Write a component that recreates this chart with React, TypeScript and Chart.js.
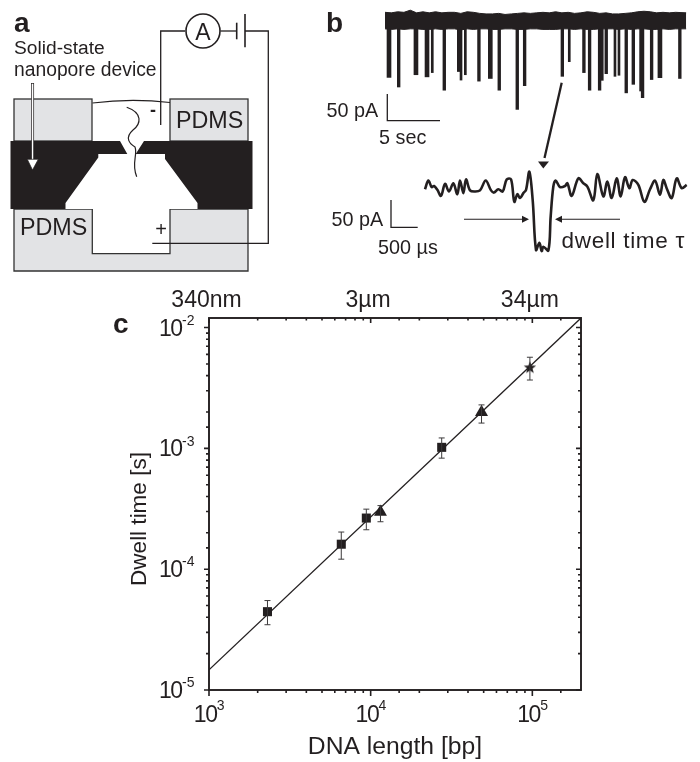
import React, { useEffect, useRef } from "react";
import { Chart, registerables } from "chart.js";

Chart.register(...registerables);

// Panel c: dwell time vs DNA length
const squareLengths = [2300, 6580, 9400, 27500];
const squareTimes = [4.45e-5, 1.61e-4, 2.65e-4, 1.02e-3];
const squareHigh = [5.5e-5, 2.03e-4, 3.14e-4, 1.22e-3];
const squareLow = [3.47e-5, 1.21e-4, 2.12e-4, 8.3e-4];
const triangleLengths = [11500, 48500];
const triangleTimes = [2.98e-4, 1.99e-3];
const triangleHigh = [3.36e-4, 2.29e-3];
const triangleLow = [2.47e-4, 1.62e-3];
const starLengths = [96600];
const starTimes = [4.69e-3];
const starHigh = [5.68e-3];
const starLow = [3.68e-3];
const fitLengths = [1000, 200000];
const fitTimes = [1.47e-5, 1.2e-2];
const topLabels = ["340nm", "3µm", "34µm"];
const topLabelLengths = [965, 9650, 96500];

// Panel b, upper trace: events (seconds, pA below the open-pore level)
const thickTimes = [0.38, 2.94, 3.99, 7.06, 10.0, 24.37, 26.11];
const thickDepths = [-92, -87, -91, -81, -94, -117.5, -92.5];
const mediumTimes = [1.3, 5.63, 8.92, 10.85, 12.56, 13.26, 16.84, 18.89, 19.43, 20.38, 20.6, 21.01, 22.91, 23.58, 24.46, 25.32, 28.0];
const mediumDepths = [-110, -116, -99, -116, -152, -107.5, -90, -83, -116, -116, -97.5, -85, -121, -105, -130, -96, -94];
const thinTimes = [4.49, 7.22, 7.63, 17.5, 21.84, 22.22];
const thinDepths = [-83, -97, -87, -62.5, -90, -88];
const bandTimes = [0, 0.6, 1.2, 1.8, 2.4, 3, 3.6, 4.2, 4.8, 5.4, 6, 6.6, 7.2, 7.8, 8.4, 9, 9.6, 10.2, 10.8, 11.4, 12, 12.6, 13.2, 13.8, 14.4, 15, 15.6, 16.2, 16.8, 17.4, 18, 18.6, 19.2, 19.8, 20.4, 21, 21.6, 22.2, 22.8, 23.4, 24, 24.6, 25.2, 25.8, 26.4, 27, 27.6, 28.6];
const bandTop = [30, 29, 31, 30, 34, 29, 31, 29, 31, 29, 30, 30, 28, 31, 30, 28, 27, 27, 28, 26, 27, 28, 29, 28, 29, 30, 29, 31, 29, 30, 28, 29, 31, 30, 28, 29, 27, 27, 28, 29, 31, 32, 31, 29, 30, 29, 30, 29];
const bandBottom = [-1, -2, -1, -2, -1, -1, -2, -2, -1, -2, -1, -1, -3, -1, -2, -1, -1, -2, -2, -1, -1, -2, -2, -1, -1, -2, -2, -2, -1, -1, -2, -1, -2, -2, -1, -1, -1, -2, -1, -2, -1, -1, -2, -2, -1, -2, -1, -1];

// Panel b, lower trace: single event (microseconds, pA)
const eventTimes = [0, 63, 125, 169, 231, 300, 375, 450, 531, 606, 656, 719, 769, 844, 938, 1031, 1138, 1238, 1294, 1375, 1456, 1531, 1613, 1675, 1731, 1781, 1844, 1894, 1956, 2019, 2081, 2144, 2188, 2219, 2313, 2356, 2406, 2450, 2531, 2625, 2669, 2750, 2875, 2969, 3044, 3156, 3231, 3344, 3419, 3500, 3594, 3669, 3750, 3831, 3894, 4000, 4113, 4219, 4313, 4406, 4469, 4531, 4625, 4719, 4813, 4906];
const eventCurrent = [0, 16, 4, 6, -1, -12, 10, -4, 11, -9, 16, -7, 18, -2, -4, -2, 16, -2, -6, 0, -4, 18, 18, -23, -9, -16, -7, -1, 32, -20, -111, -98, -113, -105, -112, -50, 5, 16, 4, 6, 11, -12, 20, 11, 5, -20, 28, -13, 14, -16, 20, -13, 22, 2, 17, 8, -23, 0, 16, -10, 17, 2, -16, 20, 2, 8];

const INK = "#231f20";
const SANS = '"Liberation Sans", Arial, sans-serif';

function label(c: CanvasRenderingContext2D, s: string, x: number, y: number, size: number, opts: { bold?: boolean; align?: CanvasTextAlign; spacing?: string } = {}) {
  c.font = `${opts.bold ? "bold " : ""}${size}px ${SANS}`;
  c.textAlign = opts.align ?? "left";
  c.textBaseline = "alphabetic";
  (c as any).letterSpacing = opts.spacing ?? "0px";
  c.fillStyle = INK;
  c.fillText(s, x, y);
  (c as any).letterSpacing = "0px";
}

function path(c: CanvasRenderingContext2D, pts: number[][], close = false) {
  c.beginPath();
  pts.forEach((p, i) => (i ? c.lineTo(p[0], p[1]) : c.moveTo(p[0], p[1])));
  if (close) c.closePath();
}

function drawSchematic(c: CanvasRenderingContext2D) {
  c.save();
  c.lineJoin = "miter";
  c.strokeStyle = "#333";
  c.lineWidth = 1.3;
  c.fillStyle = "#e2e3e5";
  c.fillRect(14, 99, 78, 42);
  c.strokeRect(14, 99, 78, 42);
  c.fillRect(170, 99, 78, 42);
  c.strokeRect(170, 99, 78, 42);
  const lower = [[14, 209], [92.3, 209], [92.3, 253.7], [170, 253.7], [170, 209], [248, 209], [248, 271], [14, 271]];
  path(c, lower, true);
  c.fill();
  c.stroke();
  c.fillStyle = INK;
  c.fillRect(10.5, 141, 242, 68);
  c.fillStyle = "#fff";
  path(c, [[65.5, 209], [65.5, 203], [98.3, 157.5], [98.3, 154], [127.3, 154], [120, 141], [144, 141], [135.7, 154], [165, 154], [165, 159], [197.5, 203], [197.5, 209]], true);
  c.fill();
  c.strokeStyle = INK;
  c.lineWidth = 1.3;
  path(c, [[185, 31], [160.7, 31], [160.7, 125]]);
  c.stroke();
  path(c, [[220.5, 31], [236.5, 31]]);
  c.stroke();
  path(c, [[245, 31], [268.3, 31], [268.3, 243.3], [152.3, 243.3]]);
  c.stroke();
  c.lineWidth = 1.6;
  path(c, [[236.7, 22.7], [236.7, 39.3]]);
  c.stroke();
  path(c, [[245, 14], [245, 47.3]]);
  c.stroke();
  c.beginPath();
  c.arc(203, 31, 17, 0, Math.PI * 2);
  c.stroke();
  c.lineWidth = 1.2;
  c.beginPath();
  c.moveTo(92.5, 103);
  c.bezierCurveTo(115, 100, 145, 99.5, 170, 102.5);
  c.stroke();
  c.beginPath();
  c.moveTo(126.7, 107.3);
  c.bezierCurveTo(143, 113, 141, 124, 133, 130);
  c.bezierCurveTo(124, 138, 130, 144, 135, 147);
  c.bezierCurveTo(138, 155, 131, 163, 136.7, 176.7);
  c.stroke();
  // hollow pointer
  c.fillStyle = "#fff";
  c.strokeStyle = INK;
  c.lineWidth = 0.7;
  c.fillRect(31.5, 83.5, 2.2, 77);
  c.strokeRect(31.5, 83.5, 2.2, 77);
  path(c, [[27.3, 159.3], [38.3, 159.3], [32.5, 170]], true);
  c.fill();
  c.stroke();
  label(c, "a", 14, 32, 28, { bold: true });
  label(c, "Solid-state", 14, 54, 19.2);
  label(c, "nanopore device", 14, 76, 19.3);
  label(c, "PDMS", 176, 128, 23.3);
  label(c, "PDMS", 20, 235, 23.3);
  label(c, "A", 203, 39.5, 23, { align: "center" });
  label(c, "-", 153, 116, 18, { align: "center", bold: true });
  label(c, "+", 161, 236, 20, { align: "center" });

  // panel b annotation
  label(c, "b", 326, 32, 28, { bold: true });
  label(c, "50 pA", 326.5, 117, 19.8);
  label(c, "5 sec", 379, 144, 19.8);
  c.lineWidth = 1.3;
  path(c, [[387.3, 94], [387.3, 120.7], [440, 120.7]]);
  c.stroke();
  c.lineWidth = 2.3;
  path(c, [[561.7, 82.7], [544.5, 158]]);
  c.stroke();
  c.fillStyle = INK;
  path(c, [[538, 161.5], [549, 161.5], [543.3, 168.5]], true);
  c.fill();
  label(c, "50 pA", 331.5, 226, 19.8);
  label(c, "500 µs", 378, 254, 19.8);
  label(c, "dwell time τ", 561.5, 248.3, 22.5, { spacing: "0.7px" });
  c.lineWidth = 1.1;
  path(c, [[464, 219.3], [524, 219.3]]);
  c.stroke();
  path(c, [[522, 215.8], [529, 219.3], [522, 222.8]], true);
  c.fill();
  path(c, [[560, 219.3], [620, 219.3]]);
  c.stroke();
  path(c, [[562, 215.8], [555, 219.3], [562, 222.8]], true);
  c.fill();
  c.lineWidth = 1.3;
  path(c, [[391, 200], [391, 227.3], [417.7, 227.3]]);
  c.stroke();
  label(c, "c", 113, 332.5, 28, { bold: true });
  c.restore();
}

const isDecade = (v: number) => Math.abs(Math.log10(v) - Math.round(Math.log10(v))) < 1e-6;

const schematicPlugin = {
  id: "schematic",
  beforeDatasetsDraw(chart: any) {
    drawSchematic(chart.ctx);
  },
};

const errorPlugin = {
  id: "errorBars",
  afterDatasetsDraw(chart: any) {
    const c: CanvasRenderingContext2D = chart.ctx;
    const { x, y } = chart.scales;
    const groups = [
      [squareLengths, squareHigh, squareLow],
      [triangleLengths, triangleHigh, triangleLow],
      [starLengths, starHigh, starLow],
    ];
    c.save();
    c.strokeStyle = "#3c3a3b";
    c.lineWidth = 1;
    groups.forEach(([xs, hi, lo]) =>
      xs.forEach((v, i) => {
        const px = x.getPixelForValue(v);
        const top = y.getPixelForValue(hi[i]);
        const bot = y.getPixelForValue(lo[i]);
        c.beginPath();
        c.moveTo(px, top);
        c.lineTo(px, bot);
        c.moveTo(px - 3, top);
        c.lineTo(px + 3, top);
        c.moveTo(px - 3, bot);
        c.lineTo(px + 3, bot);
        c.stroke();
      })
    );
    c.restore();
  },
};

const framePlugin = {
  id: "frame",
  afterDraw(chart: any) {
    const c: CanvasRenderingContext2D = chart.ctx;
    const { left, right, top, bottom } = chart.chartArea;
    const { x, y } = chart.scales;
    c.save();
    c.strokeStyle = INK;
    c.lineWidth = 1.9;
    c.strokeRect(left, top, right - left, bottom - top);
    c.lineWidth = 1.6;
    x.ticks.forEach((t: any) => {
      if (t.value < x.min || t.value >= x.max) return;
      const px = x.getPixelForValue(t.value);
      const major = isDecade(t.value);
      c.beginPath();
      c.moveTo(px, bottom);
      c.lineTo(px, bottom + (major ? 6 : 3));
      c.moveTo(px, top);
      c.lineTo(px, top + (major ? 5 : 2.5));
      c.stroke();
      if (major) {
        label(c, "10", px + 7.6, bottom + 31.7, 23, { align: "right", spacing: "-1.4px" });
        label(c, String(Math.round(Math.log10(t.value))), px + 7.8, bottom + 20, 14);
      }
    });
    y.ticks.forEach((t: any) => {
      if (t.value > 0.0101 || t.value < y.min * 0.999) return;
      const py = y.getPixelForValue(t.value);
      const major = isDecade(t.value);
      c.beginPath();
      c.moveTo(left, py);
      c.lineTo(left - (major ? 5 : 3), py);
      c.moveTo(right, py);
      c.lineTo(right - (major ? 5 : 3), py);
      c.stroke();
      if (major) {
        label(c, "10", 181.7, py + 8, 23, { align: "right", spacing: "-1.4px" });
        label(c, String(Math.round(Math.log10(t.value))), 182, py - 2.7, 14);
      }
    });
    c.translate(146, 519);
    c.rotate(-Math.PI / 2);
    label(c, "Dwell time [s]", 0, 0, 22.5, { align: "center" });
    c.restore();
  },
};

function starPoint(): HTMLCanvasElement {
  const el = document.createElement("canvas");
  el.width = 14;
  el.height = 14;
  const c = el.getContext("2d")!;
  c.fillStyle = INK;
  c.beginPath();
  for (let i = 0; i < 10; i++) {
    const r = i % 2 ? 2.7 : 6.5;
    const a = -Math.PI / 2 + (i * Math.PI) / 5;
    const px = 7 + r * Math.cos(a);
    const py = 7.5 + r * Math.sin(a);
    i ? c.lineTo(px, py) : c.moveTo(px, py);
  }
  c.closePath();
  c.fill();
  return el;
}

const pairs = (xs: number[], ys: number[]) => xs.map((x, i) => ({ x, y: ys[i] }));
const spikes = (xs: number[], ys: number[]) => xs.map((x, i) => ({ x, y: [0, ys[i]] }));

export default function App() {
  const mainRef = useRef<HTMLCanvasElement>(null);
  const traceRef = useRef<HTMLCanvasElement>(null);
  const eventRef = useRef<HTMLCanvasElement>(null);

  useEffect(() => {
    const hidden = { display: false };
    const base: any = {
      responsive: false,
      animation: false,
      events: [],
      layout: { padding: 0 },
      plugins: { legend: hidden, tooltip: { enabled: false }, title: hidden },
    };

    const main = new Chart(mainRef.current!, {
      type: "scatter",
      data: {
        datasets: [
          {
            label: "Fit",
            data: pairs(fitLengths, fitTimes),
            showLine: true,
            borderColor: INK,
            borderWidth: 1.3,
            pointRadius: 0,
          },
          {
            label: "Squares",
            data: pairs(squareLengths, squareTimes),
            pointStyle: "rect",
            pointRadius: 6.4,
            backgroundColor: INK,
            borderWidth: 0,
          },
          {
            label: "Triangles",
            data: pairs(triangleLengths, triangleTimes),
            pointStyle: "triangle",
            pointRadius: 7.5,
            backgroundColor: INK,
            borderWidth: 0,
          },
          {
            label: "Star",
            data: pairs(starLengths, starTimes),
            pointStyle: starPoint(),
            pointRadius: 7,
          },
        ],
      },
      options: {
        ...base,
        layout: { padding: { left: 119, right: 119, top: 278, bottom: 0 } },
        scales: {
          x: {
            type: "logarithmic",
            position: "bottom",
            min: 1000,
            max: 200000,
            grid: hidden,
            border: hidden,
            ticks: { display: false },
            title: {
              display: true,
              text: "DNA length [bp]",
              color: INK,
              font: { family: SANS, size: 24.7 },
              padding: 0,
            },
            afterFit: (s: any) => {
              s.height = 72;
            },
          },
          x2: {
            type: "logarithmic",
            position: "top",
            min: 1000,
            max: 200000,
            grid: { display: false, drawTicks: false },
            border: hidden,
            afterBuildTicks: (s: any) => {
              s.ticks = topLabelLengths.map((value) => ({ value }));
            },
            ticks: {
              color: INK,
              font: { family: SANS, size: 23 },
              padding: 4,
              autoSkip: false,
              maxRotation: 0,
              callback: (_v: any, i: number) => topLabels[i],
            },
            afterFit: (s: any) => {
              s.height = 40;
            },
          },
          y: {
            type: "logarithmic",
            position: "left",
            min: 1e-5,
            max: 0.012,
            grid: hidden,
            border: hidden,
            ticks: { display: false },
            afterFit: (s: any) => {
              s.width = 90;
            },
          },
        },
      } as any,
      plugins: [schematicPlugin, errorPlugin, framePlugin],
    } as any);

    const bar = (name: string, xs: number[], ys: number[], w: number) => ({
      type: "bar",
      label: name,
      data: spikes(xs, ys),
      backgroundColor: INK,
      barThickness: w,
      grouped: false,
    });
    const trace = new Chart(traceRef.current!, {
      type: "bar",
      data: {
        datasets: [
          {
            type: "line",
            label: "Band top",
            data: pairs(bandTimes, bandTop),
            borderColor: INK,
            borderWidth: 1,
            backgroundColor: INK,
            pointRadius: 0,
            fill: "+1",
          },
          {
            type: "line",
            label: "Band bottom",
            data: pairs(bandTimes, bandBottom),
            borderColor: INK,
            borderWidth: 1,
            pointRadius: 0,
          },
          bar("Wide events", thickTimes, thickDepths, 4),
          bar("Medium events", mediumTimes, mediumDepths, 2.7),
          bar("Narrow events", thinTimes, thinDepths, 2),
        ],
      },
      options: {
        ...base,
        scales: {
          x: { type: "linear", display: false, min: -0.95, max: 29.44, offset: false },
          y: { type: "linear", display: false, min: -162.5, max: 53.1 },
        },
      },
    } as any);

    const event = new Chart(eventRef.current!, {
      type: "line",
      data: {
        datasets: [
          {
            label: "Event",
            data: pairs(eventTimes, eventCurrent),
            borderColor: INK,
            borderWidth: 2.6,
            pointRadius: 0,
            tension: 0.35,
          },
        ],
      },
      options: {
        ...base,
        scales: {
          x: { type: "linear", display: false, min: -94, max: 5006 },
          y: { type: "linear", display: false, min: -129.3, max: 44.4 },
        },
      },
    } as any);

    return () => {
      main.destroy();
      trace.destroy();
      event.destroy();
    };
  }, []);

  const abs = (left: number, top: number): React.CSSProperties => ({ position: "absolute", left, top, display: "block" });
  return (
    <div style={{ position: "absolute", left: 0, top: 0, width: 700, height: 762, background: "#fff", overflow: "hidden" }}>
      <canvas ref={mainRef} width={700} height={762} style={abs(0, 0)} />
      <canvas ref={traceRef} width={320} height={115} style={abs(375, 0)} />
      <canvas ref={eventRef} width={272} height={95} style={abs(420, 165)} />
    </div>
  );
}
